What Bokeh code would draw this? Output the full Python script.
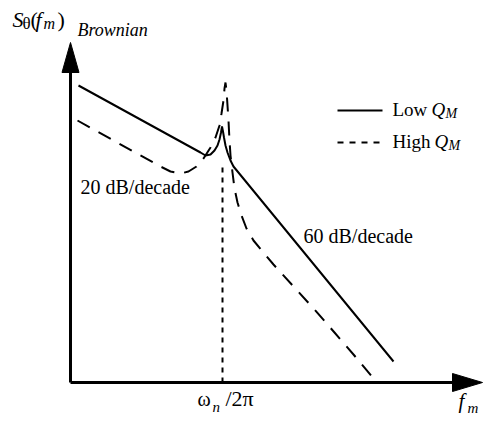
from bokeh.plotting import figure
from bokeh.models import Range1d
from bokeh.core.properties import value
from bokeh.embed import file_html
from bokeh.resources import INLINE

# Schematic values (arbitrary units; origin = corner of the axes)
# x ~ log frequency, y ~ log spectral density
low_q_x = [8, 130, 135, 140, 144, 147, 149, 150.5, 151.5, 152.5, 153.5, 155, 157, 160, 163, 323]
low_q_y = [297, 230, 227, 228, 232, 237, 243, 250, 256, 251, 245, 237, 230, 222, 216, 21]

high_q_x = [7, 90, 100, 110, 118, 126, 133, 140, 145, 149, 151, 153, 154, 155, 156, 157, 158,
            159, 160, 162, 164, 167, 171, 176, 183, 192, 203, 224, 244, 264, 283, 303]
high_q_y = [262, 216, 211, 209, 211, 216, 224, 235, 245, 257, 269, 282, 294, 300, 292, 277, 262,
            242, 227, 210, 194, 180, 167, 154, 142, 131, 118, 95, 73, 50, 28, 4]

f_n = 152          # resonance  omega_n / 2 pi
f_n_top = 218      # top of dotted marker line

x_axis_end = 412
y_axis_end = 340

FONT = value("Liberation Serif")

p = figure(width=485, height=416, output_backend="svg", toolbar_location=None,
           x_range=Range1d(-70, 415), y_range=Range1d(-34, 382), min_border=0,
           x_axis_type=None, y_axis_type=None)
p.grid.visible = False
p.outline_line_color = None
p.background_fill_color = "white"
p.border_fill_color = "white"

# axes with arrow heads
head_len, head_half = 30, 8.5
p.line([0, 0], [0, y_axis_end - head_len + 1], line_color="black", line_width=3)
p.line([0, x_axis_end - head_len + 1], [0, 0], line_color="black", line_width=3)
p.patch([-head_half, head_half, 0],
        [y_axis_end - head_len, y_axis_end - head_len, y_axis_end],
        fill_color="black", line_color="black", line_width=1)
p.patch([x_axis_end - head_len, x_axis_end - head_len, x_axis_end],
        [-head_half - 0.5, head_half + 0.5, 0],
        fill_color="black", line_color="black", line_width=1)

# dotted resonance marker
p.line([f_n, f_n], [0, f_n_top], line_color="black", line_width=2, line_dash="5 5")

# curves
p.line(low_q_x, low_q_y, line_color="black", line_width=2)
p.line(high_q_x, high_q_y, line_color="black", line_width=2, line_dash="14 10")

# legend samples
p.line([267, 312], [272, 272], line_color="black", line_width=2)
p.line([267, 312], [240, 240], line_color="black", line_width=2, line_dash="6 6")

DY = 7  # baseline correction


def txt(x, y, s, size, style="normal"):
    p.text(x=[x], y=[y + DY], text=[s], text_font=FONT, text_font_size=f"{size}px",
           text_font_style=style, text_color="black", text_align="left",
           text_baseline="alphabetic")


# y-axis title  S_θ(f_m)_Brownian
txt(-58, 356, "S", 22, "italic")
txt(-48, 352, "θ", 17)
txt(-40, 356, "(", 22)
txt(-35, 356, "f", 22, "italic")
txt(-27, 352, "m", 16, "italic")
txt(-13, 356, ")", 22)
txt(7, 346, "Brownian", 18, "italic")

# legend texts
txt(322, 266, "Low", 19)
txt(361, 266, "Q", 19, "italic")
txt(375, 262, "M", 14, "italic")
txt(322, 234, "High", 19)
txt(364, 234, "Q", 19, "italic")
txt(378, 230, "M", 14, "italic")

# slope annotations
txt(10, 189, "20 dB/decade", 20)
txt(233, 140, "60 dB/decade", 20)

# x-axis labels
txt(127, -23, "ω", 20)
txt(142, -31, "n", 15, "italic")
txt(155, -23, "/2π", 22)
txt(388, -25, "f", 21, "italic")
txt(397, -32, "m", 15, "italic")

open("out.html", "w").write(file_html(p, INLINE))
